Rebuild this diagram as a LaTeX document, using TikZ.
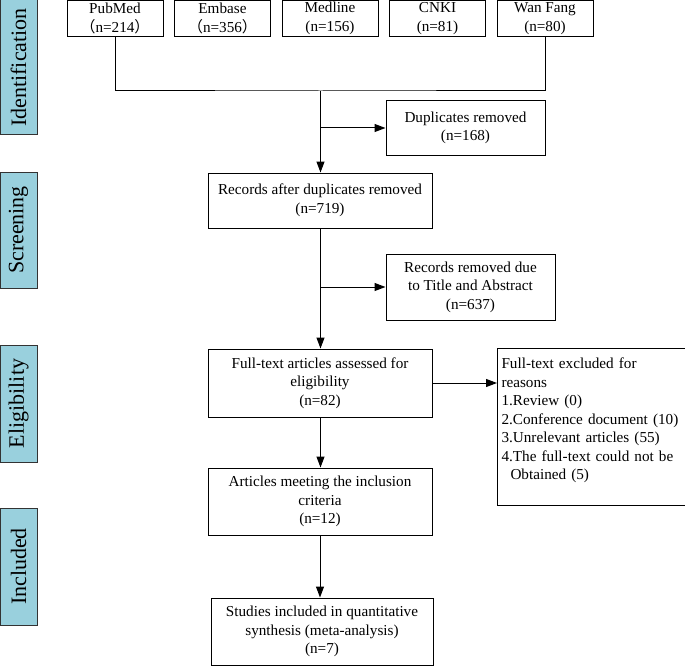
\documentclass[tikz,border=0pt]{standalone}
\usepackage{fontspec}
\setmainfont{Liberation Serif}
\newfontfamily\cjk{Noto Sans CJK SC}
\usetikzlibrary{arrows.meta}
\definecolor{phase}{RGB}{153,208,221}
\tikzset{
  box/.style={draw=black, line width=1pt, align=center, inner sep=0pt,
    font=\fontsize{15.2}{18.5}\selectfont},
  phasebox/.style={draw=black!80, line width=1pt, fill=phase, inner sep=0pt,
    minimum width=37pt, font=\fontsize{22}{24}\selectfont},
  link/.style={line width=1pt},
  arr/.style={line width=1pt, -{Triangle[length=11pt,width=8pt]}}
}
\begin{document}
\begin{tikzpicture}[x=1pt,y=-1pt]
\useasboundingbox (0,0) rectangle (685,666);
% phase labels
\node[phasebox, minimum height=135pt] (pid) at (18.5,67.5) {\rotatebox{90}{Identification}};
\node[phasebox, minimum height=116pt] (psc) at (18.5,230) {\rotatebox{90}{Screening}};
\node[phasebox, minimum height=117pt] (pel) at (18.5,403.5) {\rotatebox{90}{Eligibility}};
\node[phasebox, minimum height=117pt] (pin) at (18.5,566.5) {\rotatebox{90}{Included}};
% sources
\node[box, minimum width=96pt, minimum height=36pt] (pub) at (115,18.5) {PubMed\\{\cjk （}n=214{\cjk ）}};
\node[box, minimum width=96pt, minimum height=36pt] (emb) at (222.5,18.5) {Embase\\{\cjk （}n=356{\cjk ）}};
\node[box, minimum width=96pt, minimum height=36pt] (med) at (330,18.5) {Medline\\(n=156)};
\node[box, minimum width=96pt, minimum height=36pt] (cnki) at (437.5,18.5) {CNKI\\(n=81)};
\node[box, minimum width=96pt, minimum height=36pt] (wan) at (545,18.5) {Wan Fang\\(n=80)};
% main flow
\node[box, minimum width=159pt, minimum height=55pt] (dup) at (465.5,128) {Duplicates removed\\(n=168)};
\node[box, minimum width=224pt, minimum height=55pt] (rec) at (320,200.5) {Records after duplicates removed\\(n=719)};
\node[box, minimum width=169pt, minimum height=66pt] (tit) at (470.5,287) {Records removed due\\to Title and Abstract\\(n=637)};
\node[box, minimum width=224pt, minimum height=68pt] (full) at (320,383) {Full-text articles assessed for\\eligibility\\(n=82)};
\node[box, minimum width=187pt, minimum height=157pt, align=left, anchor=north west, text width=181pt, inner xsep=4pt, inner ysep=0pt] (excl) at (497,348)
  {Full-text excluded for\\reasons\\1.Review (0)\\2.Conference document (10)\\3.Unrelevant articles (55)\\4.The full-text could not be\\\hspace*{9pt}Obtained (5)\\[-2.5pt]\mbox{}};
\node[box, minimum width=224pt, minimum height=67pt] (art) at (320,501.5) {Articles meeting the inclusion\\criteria\\(n=12)};
\node[box, minimum width=222pt, minimum height=67pt] (stu) at (322,631.5) {Studies included in quantitative\\synthesis (meta-analysis)\\(n=7)};
% connectors
\coordinate (j) at (320.5,91);
\draw[link] (pub.south) |- (j) -| (wan.south);
\draw[arr] (j) -- (j |- rec.north);
\draw[arr] (j |- dup.west) -- (dup.west);
\draw[arr] (rec.south -| j) -- (j |- full.north);
\draw[arr] (j |- tit.west) -- (tit.west);
\draw[arr] (full.east) -- (excl.west |- full.east);
\draw[arr] (full.south -| j) -- (j |- art.north);
\draw[arr] (art.south) -- (art.south |- stu.north);
\end{tikzpicture}
\end{document}
